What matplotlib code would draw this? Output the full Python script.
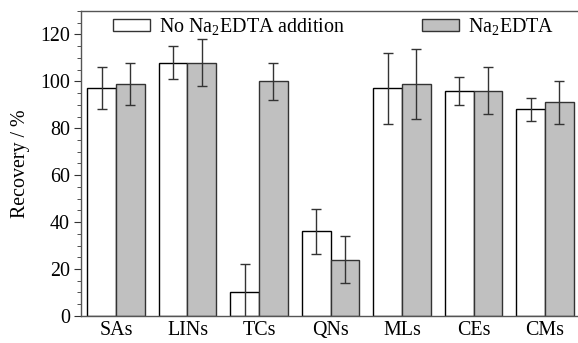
import numpy as np
import matplotlib.pyplot as plt
from matplotlib.ticker import MultipleLocator
from matplotlib.patches import Patch

plt.rcParams['font.family'] = ['Liberation Serif', 'DejaVu Serif']
plt.rcParams['mathtext.fontset'] = 'custom'
plt.rcParams['mathtext.rm'] = 'Liberation Serif'

# data
groups = ['SAs', 'LINs', 'TCs', 'QNs', 'MLs', 'CEs', 'CMs']
no_edta = [97, 108, 10, 36, 97, 96, 88]
no_edta_err = [9, 7, 12, 9.5, 15, 6, 5]
edta = [99, 108, 100, 24, 99, 96, 91]
edta_err = [9, 10, 8, 10, 15, 10, 9]

x = np.arange(len(groups))
w = 0.4
fs = 14.4

fig = plt.figure(figsize=(5.78, 3.43), dpi=100)
ax = fig.add_axes([0.140, 0.079, 0.860, 0.889])

err_kw = dict(ecolor='#333333', elinewidth=1.0, capsize=3.6, capthick=1.0)
ax.bar(x - w / 2, no_edta, w, color='white', edgecolor='black', linewidth=1.0,
       yerr=no_edta_err, error_kw=err_kw)
ax.bar(x + w / 2, edta, w, color='#c0c0c0', edgecolor='#333333', linewidth=1.0,
       yerr=edta_err, error_kw=err_kw)

ax.set_xlim(-0.49, 6.46)
ax.set_ylim(0, 130)
ax.set_xticks(x)
ax.set_xticklabels(groups)
ax.yaxis.set_major_locator(MultipleLocator(20))
ax.yaxis.set_minor_locator(MultipleLocator(5))
ax.tick_params(axis='x', length=0, labelsize=fs, pad=4)
ax.tick_params(axis='y', which='major', direction='out', length=5, pad=3,
               labelsize=fs, colors='#333333', labelcolor='black')
ax.tick_params(axis='y', which='minor', direction='out', length=3, colors='#333333')
for s in ax.spines.values():
    s.set_color('#555555')
    s.set_linewidth(1.0)
ax.spines['right'].set_visible(False)
ax.set_ylabel('Recovery / %', fontsize=fs, labelpad=7)

h1 = Patch(facecolor='white', edgecolor='#333333', linewidth=1.0)
h2 = Patch(facecolor='#c0c0c0', edgecolor='#333333', linewidth=1.0)
leg_kw = dict(loc='upper left', frameon=False, fontsize=fs, borderpad=0,
              borderaxespad=0, handlelength=1.85, handleheight=0.55,
              handletextpad=0.45, bbox_transform=fig.transFigure)
leg1 = ax.legend([h1], ['No Na$_2$EDTA addition'], bbox_to_anchor=(0.1955, 0.952), **leg_kw)
ax.add_artist(leg1)
ax.legend([h2], ['Na$_2$EDTA'], bbox_to_anchor=(0.730, 0.952), **leg_kw)

fig.savefig('out.png', dpi=100)
